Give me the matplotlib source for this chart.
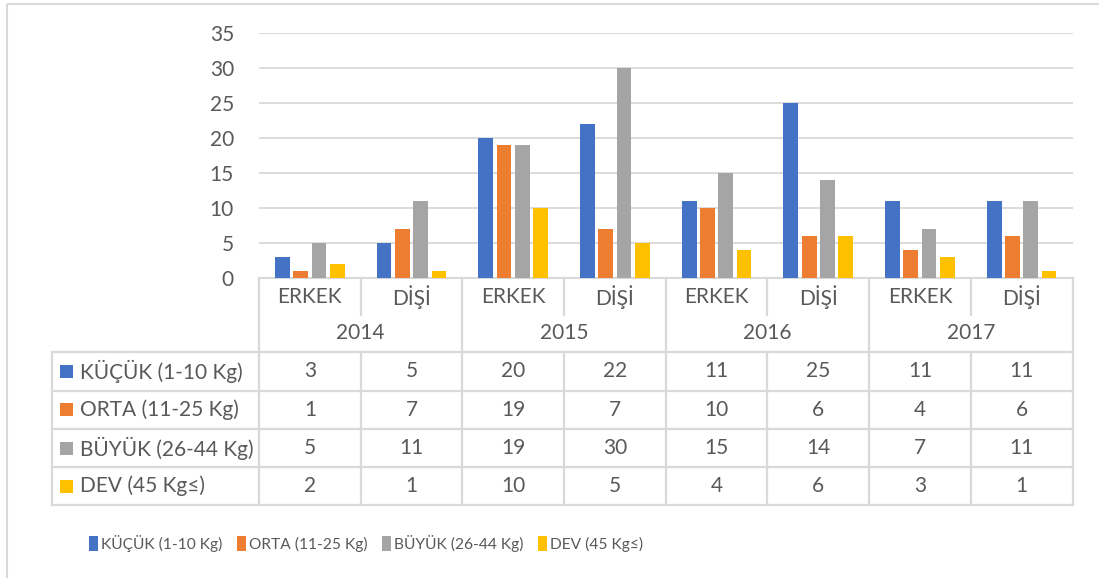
import matplotlib
matplotlib.use("Agg")
import matplotlib.pyplot as plt
from matplotlib.patches import Rectangle

plt.rcParams["font.family"] = ["Lato", "DejaVu Sans"]

# Dog counts by size class, year and sex
years = ["2014", "2015", "2016", "2017"]
sexes = ["ERKEK", "DİŞİ"]
series_names = ["KÜÇÜK (1-10 Kg)", "ORTA (11-25 Kg)", "BÜYÜK (26-44 Kg)", "DEV (45 Kg≤)"]
kucuk = [3, 5, 20, 22, 11, 25, 11, 11]
orta = [1, 7, 19, 7, 10, 6, 4, 6]
buyuk = [5, 11, 19, 30, 15, 14, 7, 11]
dev = [2, 1, 10, 5, 4, 6, 3, 1]
series_values = [kucuk, orta, buyuk, dev]
colors = ["#4472C4", "#ED7D31", "#A5A5A5", "#FFC000"]

TEXT = "#595959"
LINE = "#D9D9D9"
FS = 15
W, H = 1099, 578

# pixel layout of the plot + data table
x0, x1 = 259, 1072.5
y_zero, y_top = 278, 33
label_left = 52
row_edges = [352, 390.5, 429, 467, 505]
sub_row_mid, year_row_mid, sub_row_bottom = 297, 333, 315

n_cols = len(years) * len(sexes)
col_w = (x1 - x0) / n_cols

fig = plt.figure(figsize=(W / 100, H / 100), dpi=100)

# overlay in pixel coordinates for the frame and table
ov = fig.add_axes([0, 0, 1, 1])
ov.set_xlim(0, W)
ov.set_ylim(H, 0)
ov.axis("off")

ov.add_patch(Rectangle((6.5, 3.5), W + 20, H + 20, fill=False, edgecolor=LINE, linewidth=1.5))

# bar chart
ax = fig.add_axes([x0 / W, 1 - y_zero / H, (x1 - x0) / W, (y_zero - y_top) / H])
ax.set_xlim(0, n_cols)
ax.set_ylim(0, 35)
ax.set_yticks(range(0, 36, 5))
ax.set_xticks([])
ax.tick_params(axis="y", length=0, pad=18, labelsize=FS, labelcolor=TEXT)
for s in ["top", "right", "left"]:
    ax.spines[s].set_visible(False)
ax.spines["bottom"].set_color(LINE)
ax.spines["bottom"].set_linewidth(1.5)
ax.grid(axis="y", color=LINE, linewidth=1.3)
ax.set_axisbelow(True)
ax.patch.set_alpha(0)

pitch, bar_w = 0.18, 0.145
centers = [i + 0.5 for i in range(n_cols)]
bars = []
for k, (name, vals, c) in enumerate(zip(series_names, series_values, colors)):
    xs = [cx + (k - 1.5) * pitch for cx in centers]
    bars.append(ax.bar(xs, vals, width=bar_w, color=c, label=name, zorder=3))

# table grid
lw = 1.6
col_edges = [x0 + i * col_w for i in range(n_cols + 1)]
for i, xe in enumerate(col_edges):
    if i % 2 == 0:
        ov.plot([xe, xe], [y_zero, row_edges[-1]], color=LINE, lw=lw)
    else:
        ov.plot([xe, xe], [y_zero, sub_row_bottom], color=LINE, lw=lw)
        ov.plot([xe, xe], [row_edges[0], row_edges[-1]], color=LINE, lw=lw)
ov.plot([label_left, label_left], [row_edges[0], row_edges[-1]], color=LINE, lw=lw)
for ye in row_edges:
    ov.plot([label_left, x1], [ye, ye], color=LINE, lw=lw)

# header rows
for i in range(n_cols):
    cx = x0 + (i + 0.5) * col_w
    ov.text(cx, sub_row_mid, sexes[i % 2], ha="center", va="center", fontsize=FS, color=TEXT)
for j, yr in enumerate(years):
    cx = x0 + (2 * j + 1) * col_w
    ov.text(cx, year_row_mid, yr, ha="center", va="center", fontsize=FS, color=TEXT)

# data rows
for r, (name, vals, c) in enumerate(zip(series_names, series_values, colors)):
    cy = (row_edges[r] + row_edges[r + 1]) / 2
    ov.add_patch(Rectangle((60, cy - 6.5), 13, 13, color=c, linewidth=0))
    ov.text(80, cy, name, ha="left", va="center", fontsize=FS, color=TEXT)
    for i, v in enumerate(vals):
        cx = x0 + (i + 0.5) * col_w
        ov.text(cx, cy, str(v), ha="center", va="center", fontsize=FS, color=TEXT)

fig.legend(
    handles=bars,
    labels=series_names,
    loc="center",
    bbox_to_anchor=(366 / W, 1 - 543 / H),
    ncol=4,
    frameon=False,
    handlelength=0.55,
    handleheight=1.1,
    handletextpad=0.2,
    columnspacing=0.95,
    fontsize=11.2,
    labelcolor=TEXT,
)

fig.savefig("out.png", dpi=100)
